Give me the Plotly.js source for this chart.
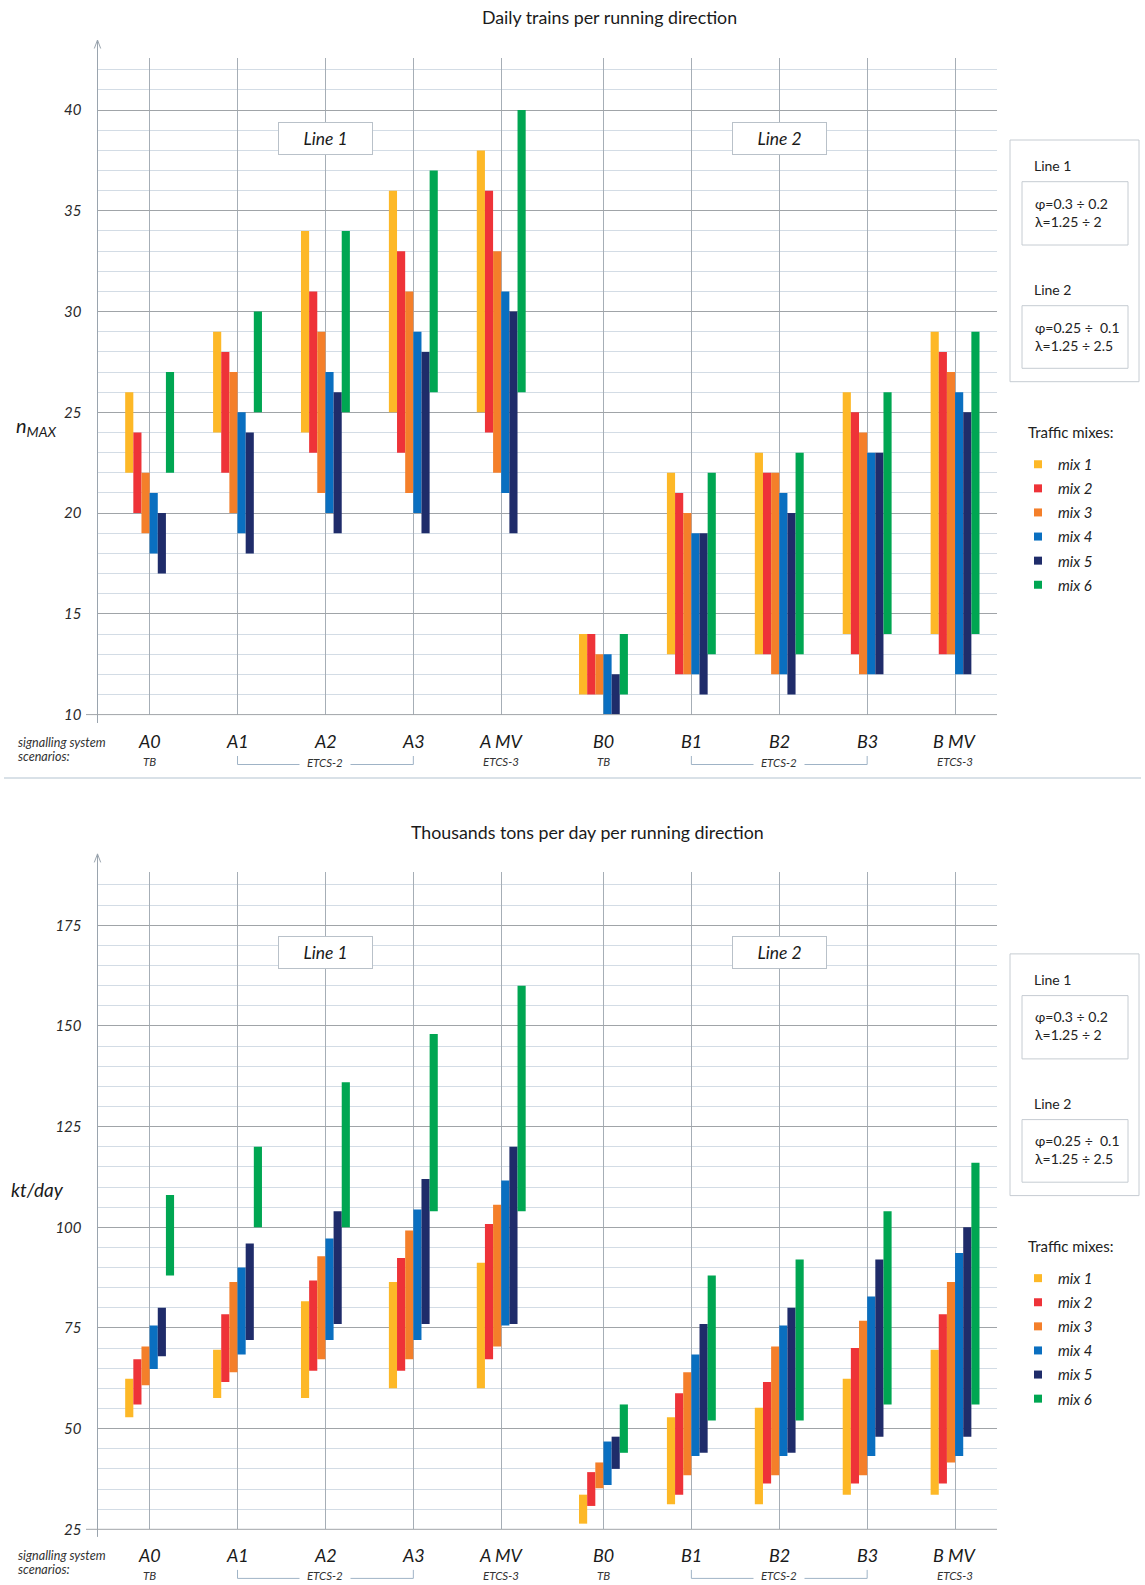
<!DOCTYPE html>
<html>
<head>
<meta charset="utf-8">
<script src="https://cdn.plot.ly/plotly-3.0.1.min.js"></script>
<style>
html, body { margin: 0; padding: 0; background: #ffffff; }
#chart { width: 1145px; height: 1585px; }
</style>
</head>
<body>
<div id="chart"></div>
<script>
// ---------------- data ----------------
const scenarios = ['A0', 'A1', 'A2', 'A3', 'A MV', 'B0', 'B1', 'B2', 'B3', 'B MV'];
const systemLabels = ['TB', '', '', '', 'ETCS-3', 'TB', '', '', '', 'ETCS-3'];
const mixNames = ['mix 1', 'mix 2', 'mix 3', 'mix 4', 'mix 5', 'mix 6'];

// Daily trains per running direction (n MAX): one row per mix, one column per scenario
const trainsLow = [
  [22, 24, 24, 25, 25, 11, 13, 13, 14, 14],
  [20, 22, 23, 23, 24, 11, 12, 13, 13, 13],
  [19, 20, 21, 21, 22, 11, 12, 12, 12, 13],
  [18, 19, 20, 20, 21, 10, 12, 12, 12, 12],
  [17, 18, 19, 19, 19, 10, 11, 11, 12, 12],
  [22, 25, 25, 26, 26, 11, 13, 13, 14, 14]
];
const trainsHigh = [
  [26, 29, 34, 36, 38, 14, 22, 23, 26, 29],
  [24, 28, 31, 33, 36, 14, 21, 22, 25, 28],
  [22, 27, 29, 31, 33, 13, 20, 22, 24, 27],
  [21, 25, 27, 29, 31, 13, 19, 21, 23, 26],
  [20, 24, 26, 28, 30, 12, 19, 20, 23, 25],
  [27, 30, 34, 37, 40, 14, 22, 23, 26, 29]
];

// Thousands tons per day per running direction (kt/day)
const tonsLow = [
  [52.8, 57.6, 57.6, 60.0, 60.0, 26.4, 31.2, 31.2, 33.6, 33.6],
  [56.0, 61.6, 64.4, 64.4, 67.2, 30.8, 33.6, 36.4, 36.4, 36.4],
  [60.8, 64.0, 67.2, 67.2, 70.4, 35.2, 38.4, 38.4, 38.4, 41.6],
  [64.8, 68.4, 72.0, 72.0, 75.6, 36.0, 43.2, 43.2, 43.2, 43.2],
  [68.0, 72.0, 76.0, 76.0, 76.0, 40.0, 44.0, 44.0, 48.0, 48.0],
  [88.0, 100.0, 100.0, 104.0, 104.0, 44.0, 52.0, 52.0, 56.0, 56.0]
];
const tonsHigh = [
  [62.4, 69.6, 81.6, 86.4, 91.2, 33.6, 52.8, 55.2, 62.4, 69.6],
  [67.2, 78.4, 86.8, 92.4, 100.8, 39.2, 58.8, 61.6, 70.0, 78.4],
  [70.4, 86.4, 92.8, 99.2, 105.6, 41.6, 64.0, 70.4, 76.8, 86.4],
  [75.6, 90.0, 97.2, 104.4, 111.6, 46.8, 68.4, 75.6, 82.8, 93.6],
  [80.0, 96.0, 104.0, 112.0, 120.0, 48.0, 76.0, 80.0, 92.0, 100.0],
  [108.0, 120.0, 136.0, 148.0, 160.0, 56.0, 88.0, 92.0, 104.0, 116.0]
];

const trainsTicks = [10, 15, 20, 25, 30, 35, 40];
const tonsTicks = [25, 50, 75, 100, 125, 150, 175];

// ---------------- styling / layout helpers ----------------
const W = 1145, H = 1585;
const px = v => v / W;
const py = v => 1 - v / H;
const FONT = 'Lato, "Open Sans", "DejaVu Sans", sans-serif';
const mixColors = ['#FDB827', '#EE3338', '#F47F2A', '#0A6FC0', '#1F2C6A', '#00A652'];
const xPos = scenarios.map((s, i) => i + (s.charAt(0) === 'B' ? 0.163 : 0));
const barW = 0.0927;

const panels = [
  { low: trainsLow, high: trainsHigh, ticks: trainsTicks, range: [10, 42.6], minor: 1,
    xa: 'x', ya: 'y', legend: 'legend', dy: 0, top: 57.7, bottom: 714.6 },
  { low: tonsLow, high: tonsHigh, ticks: tonsTicks, range: [25, 188.2], minor: 5,
    xa: 'x2', ya: 'y2', legend: 'legend2', dy: 813.9, top: 872.1, bottom: 1529.3 }
];

const traces = [];
const shapes = [];
const annotations = [];
const layout = {
  width: W, height: H,
  margin: { l: 0, r: 0, t: 0, b: 0 },
  paper_bgcolor: '#ffffff', plot_bgcolor: '#ffffff',
  barmode: 'overlay',
  font: { family: FONT, color: '#222222' },
  title: {
    text: 'Daily trains per running direction',
    x: px(609.5), xref: 'paper', xanchor: 'center',
    y: py(18), yref: 'paper', yanchor: 'middle',
    font: { family: FONT, size: 17.8, color: '#1a1a1a' }
  },
  showlegend: true
};

function note(o) {
  return Object.assign({ showarrow: false, xanchor: 'center', yanchor: 'middle' }, o);
}

panels.forEach((p, k) => {
  const axSuffix = k === 0 ? '' : '2';
  // bars: floating ranges low..high
  mixNames.forEach((m, i) => {
    traces.push({
      type: 'bar', name: m,
      x: xPos,
      base: p.low[i],
      y: p.high[i].map((h, j) => h - p.low[i][j]),
      width: barW,
      offset: (i - 3) * barW,
      marker: { color: mixColors[i], line: { width: 0 } },
      xaxis: p.xa, yaxis: p.ya,
      showlegend: false,
      hoverinfo: 'skip'
    });
  });
  // legend entries
  mixNames.forEach((m, i) => {
    traces.push({
      type: 'scatter', mode: 'markers', name: m,
      x: [null], y: [null],
      marker: { color: mixColors[i], symbol: 'square', size: 8 },
      xaxis: p.xa, yaxis: p.ya,
      legend: p.legend, legendgroup: 'p' + k + 'm' + i, showlegend: true
    });
  });

  layout['xaxis' + axSuffix] = {
    domain: [px(97.5), px(997)],
    range: [-0.593, 9.64],
    anchor: 'y' + axSuffix,
    tickvals: xPos,
    showticklabels: false,
    showgrid: true, gridcolor: '#a6aeb6', gridwidth: 1,
    zeroline: false, showline: false, ticks: '', fixedrange: true
  };
  layout['yaxis' + axSuffix] = {
    domain: [py(p.bottom), py(p.top)],
    range: p.range,
    anchor: 'x' + axSuffix,
    tickvals: p.ticks,
    ticks: 'outside', ticklen: 12, tickcolor: 'rgba(0,0,0,0)',
    tickfont: { family: FONT, size: 15, color: '#2a2a2a', style: 'italic' },
    showgrid: true, gridcolor: '#a0a4a8', gridwidth: 1,
    minor: { dtick: p.minor, tick0: p.range[0], showgrid: true, gridcolor: '#d3dce5', gridwidth: 1 },
    zeroline: false, showline: false, fixedrange: true
  };

  const dy = p.dy;
  // y axis line with arrow
  shapes.push({ type: 'line', xref: 'paper', yref: 'paper',
    x0: px(97.5), x1: px(97.5), y0: py(723 + dy), y1: py(40 + dy),
    line: { color: '#9aa4ae', width: 1 } });
  shapes.push({ type: 'path', xref: 'paper', yref: 'paper',
    path: `M ${px(94.3)},${py(48.5 + dy)} L ${px(97.5)},${py(40 + dy)} L ${px(100.7)},${py(48.5 + dy)}`,
    line: { color: '#9aa4ae', width: 1 } });
  // baseline
  shapes.push({ type: 'line', xref: 'paper', yref: 'paper',
    x0: px(86), x1: px(997), y0: py(p.bottom), y1: py(p.bottom),
    line: { color: '#a0a4a8', width: 1 } });
  // ETCS-2 brackets
  [[1, 3], [6, 8]].forEach(([a, b]) => {
    shapes.push({ type: 'path', xref: p.xa, yref: 'paper',
      path: `M ${xPos[a]},${py(756 + dy)} L ${xPos[a]},${py(764.5 + dy)} L ${xPos[b]},${py(764.5 + dy)} L ${xPos[b]},${py(756 + dy)}`,
      line: { color: '#9fb3c6', width: 1 } });
    annotations.push(note({ xref: p.xa, yref: 'paper', x: xPos[(a + b) / 2], y: py(762 + dy),
      text: '<i>ETCS-2</i>', bgcolor: '#ffffff', borderpad: 0,
      width: 50, font: { family: FONT, size: 11.5, color: '#333333' } }));
  });
  // scenario labels
  scenarios.forEach((s, j) => {
    annotations.push(note({ xref: p.xa, yref: 'paper', x: xPos[j], y: py(741.5 + dy),
      text: '<i>' + s + '</i>',
      font: { family: FONT, size: 18, color: '#1a1a1a' } }));
    if (systemLabels[j]) {
      annotations.push(note({ xref: p.xa, yref: 'paper', x: xPos[j], y: py(761.5 + dy),
        text: '<i>' + systemLabels[j] + '</i>',
        font: { family: FONT, size: 11.5, color: '#333333' } }));
    }
  });
  annotations.push(note({ xref: 'paper', yref: 'paper', x: px(16), y: py(742 + dy), xanchor: 'left',
    text: '<i>signalling system</i>',
    font: { family: FONT, size: 12.6, color: '#333333' } }));
  annotations.push(note({ xref: 'paper', yref: 'paper', x: px(16), y: py(756 + dy), xanchor: 'left',
    text: '<i>scenarios:</i>',
    font: { family: FONT, size: 12.6, color: '#333333' } }));
  // Line 1 / Line 2 boxes inside the plot
  [[2, 'Line 1'], [7, 'Line 2']].forEach(([j, t]) => {
    annotations.push(note({ xref: p.xa, yref: 'paper', x: xPos[j], y: py(138.5 + dy),
      text: '<i>' + t + '</i>',
      width: 93, height: 31, bgcolor: '#ffffff', bordercolor: '#b9c1c9', borderwidth: 1, borderpad: 0,
      font: { family: FONT, size: 17.5, color: '#1a1a1a' } }));
  });
  // right information box
  shapes.push({ type: 'rect', xref: 'paper', yref: 'paper',
    x0: px(1010), x1: px(1139), y0: py(140 + dy), y1: py(381.7 + dy),
    line: { color: '#c6ccd2', width: 1 }, fillcolor: 'rgba(0,0,0,0)' });
  shapes.push({ type: 'rect', xref: 'paper', yref: 'paper',
    x0: px(1022), x1: px(1128), y0: py(181.7 + dy), y1: py(245 + dy),
    line: { color: '#c6ccd2', width: 1 }, fillcolor: 'rgba(0,0,0,0)' });
  shapes.push({ type: 'rect', xref: 'paper', yref: 'paper',
    x0: px(1022), x1: px(1128), y0: py(305.7 + dy), y1: py(368.3 + dy),
    line: { color: '#c6ccd2', width: 1 }, fillcolor: 'rgba(0,0,0,0)' });
  annotations.push(note({ xref: 'paper', yref: 'paper', x: px(1032), y: py(165.7 + dy), xanchor: 'left',
    text: 'Line 1', font: { family: FONT, size: 14, color: '#222222' } }));
  annotations.push(note({ xref: 'paper', yref: 'paper', x: px(1033), y: py(212 + dy), xanchor: 'left', align: 'left',
    text: 'φ=0.3 ÷ 0.2<br>λ=1.25 ÷ 2', font: { family: FONT, size: 14, color: '#222222' } }));
  annotations.push(note({ xref: 'paper', yref: 'paper', x: px(1032), y: py(289.3 + dy), xanchor: 'left',
    text: 'Line 2', font: { family: FONT, size: 14, color: '#222222' } }));
  annotations.push(note({ xref: 'paper', yref: 'paper', x: px(1033), y: py(336 + dy), xanchor: 'left', align: 'left',
    text: 'φ=0.25 ÷  0.1<br>λ=1.25 ÷ 2.5', font: { family: FONT, size: 14, color: '#222222' } }));
  // legend heading + legend
  annotations.push(note({ xref: 'paper', yref: 'paper', x: px(1026), y: py(431.7 + dy), xanchor: 'left',
    text: 'Traffic mixes:', font: { family: FONT, size: 15, color: '#222222' } }));
  layout[p.legend] = {
    x: px(1018), xanchor: 'left', y: py(448 + dy), yanchor: 'top',
    xref: 'paper', yref: 'paper',
    bgcolor: 'rgba(0,0,0,0)', borderwidth: 0,
    traceorder: 'grouped', tracegroupgap: 1.6,
    font: { family: FONT, size: 15, color: '#222222', style: 'italic' },
    itemclick: false, itemdoubleclick: false
  };
});

// y axis titles
annotations.push(note({ xref: 'paper', yref: 'paper', x: px(14), y: py(427), xanchor: 'left',
  text: '<i>n</i><sub><i>MAX</i></sub>',
  font: { family: FONT, size: 20, color: '#1a1a1a' } }));
annotations.push(note({ xref: 'paper', yref: 'paper', x: px(9), y: py(1189), xanchor: 'left',
  text: '<i>kt/day</i>',
  font: { family: FONT, size: 19, color: '#1a1a1a' } }));
// second chart title
annotations.push(note({ xref: 'paper', yref: 'paper', x: px(587), y: py(831.5),
  text: 'Thousands tons per day per running direction',
  font: { family: FONT, size: 17.8, color: '#1a1a1a' } }));
// separator between the two charts
shapes.push({ type: 'line', xref: 'paper', yref: 'paper',
  x0: px(4), x1: px(1141), y0: py(778), y1: py(778),
  line: { color: '#b3c3d0', width: 1 } });

layout.shapes = shapes;
layout.annotations = annotations;

Plotly.newPlot('chart', traces, layout, { displayModeBar: false, staticPlot: true });
</script>
</body>
</html>
